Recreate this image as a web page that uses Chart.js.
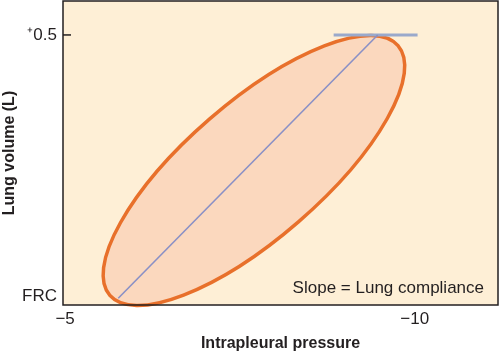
<!DOCTYPE html>
<html>
<head>
<meta charset="utf-8">
<script src="https://cdn.jsdelivr.net/npm/chart.js@4"></script>
<style>
  html, body { margin: 0; padding: 0; background: #fff; }
  #wrap { width: 500px; height: 353px; }
</style>
</head>
<body>
<div id="wrap"><canvas id="lungChart"></canvas></div>
<script>
// axis ticks
const xTicks = [-5, -10];
const xTickLabels = ['\u22125', '\u221210'];
const yTicks = [0, 0.5];
const yTickLabels = ['FRC', '\u207A0.5'];

// compliance line (pressure, volume)
const slopeX = [-5.76, -9.47];
const slopeY = [-0.004, 0.5];

// flat line at end-inspiration
const capX = [-8.84, -10.04];
const capY = [0.5, 0.5];

// pressure-volume loop: centre, end of long axis, end of short axis
const loopCenter = [-7.70, 0.2405];
const loopMajorEnd = [-9.76, 0.4796];
const loopMinorEnd = [-8.34, 0.1426];

const FONT = '"Liberation Sans", Arial, sans-serif';

const loopPlugin = {
    id: 'loop',
    beforeDatasetsDraw(chart) {
        const { ctx, chartArea: a, scales: { x, y } } = chart;
        ctx.save();
        ctx.fillStyle = '#FEEFD6';
        ctx.fillRect(a.left, a.top, a.width, a.height);

        const c = [x.getPixelForValue(loopCenter[0]), y.getPixelForValue(loopCenter[1])];
        const m = [x.getPixelForValue(loopMajorEnd[0]), y.getPixelForValue(loopMajorEnd[1])];
        const n = [x.getPixelForValue(loopMinorEnd[0]), y.getPixelForValue(loopMinorEnd[1])];
        const rx = Math.hypot(m[0] - c[0], m[1] - c[1]);
        const ry = Math.hypot(n[0] - c[0], n[1] - c[1]);
        const ang = Math.atan2(m[1] - c[1], m[0] - c[0]);
        ctx.beginPath();
        ctx.ellipse(c[0], c[1], rx, ry, ang, 0, Math.PI * 2);
        ctx.fillStyle = '#FBD8BE';
        ctx.fill();
        ctx.lineWidth = 3.5;
        ctx.strokeStyle = '#E8702B';
        ctx.stroke();
        ctx.restore();
    },
    afterDraw(chart) {
        const { ctx, chartArea: a, scales: { y } } = chart;
        ctx.save();
        // frame
        ctx.strokeStyle = '#231f20';
        ctx.lineWidth = 1.5;
        ctx.strokeRect(a.left, a.top, a.width, a.height);
        // inward tick at +0.5
        const ty = y.getPixelForValue(0.5);
        ctx.beginPath();
        ctx.moveTo(a.left, ty);
        ctx.lineTo(a.left + 8, ty);
        ctx.stroke();
        // note
        ctx.fillStyle = '#231f20';
        ctx.font = '17px ' + FONT;
        ctx.textAlign = 'right';
        ctx.textBaseline = 'middle';
        ctx.fillText('Slope = Lung compliance', a.right - 14, a.bottom - 17);
        ctx.restore();
    }
};

const ctx = document.getElementById('lungChart').getContext('2d');
new Chart(ctx, {
    type: 'scatter',
    data: {
        datasets: [
            {
                label: 'compliance',
                data: slopeX.map((v, i) => ({ x: v, y: slopeY[i] })),
                showLine: true,
                borderColor: '#8A90C6',
                borderWidth: 1.6,
                pointRadius: 0
            },
            {
                label: 'cap',
                data: capX.map((v, i) => ({ x: v, y: capY[i] })),
                showLine: true,
                borderColor: '#9AA9CB',
                borderWidth: 3,
                pointRadius: 0
            }
        ]
    },
    options: {
        responsive: true,
        maintainAspectRatio: false,
        animation: false,
        layout: { padding: { top: 1, right: 2, left: 0, bottom: 0 } },
        plugins: {
            legend: { display: false },
            tooltip: { enabled: false }
        },
        scales: {
            x: {
                type: 'linear',
                min: -11.19,
                max: -4.97,
                reverse: true,
                grid: { display: false, drawTicks: false },
                border: { display: false },
                afterBuildTicks: s => { s.ticks = xTicks.map(v => ({ value: v })); },
                afterFit: s => { s.height = 48; s.paddingLeft = 0; s.paddingRight = 0; },
                ticks: {
                    autoSkip: false,
                    maxRotation: 0,
                    padding: 4,
                    color: '#231f20',
                    font: { family: FONT, size: 17 },
                    callback: v => xTickLabels[xTicks.indexOf(v)]
                },
                title: {
                    display: true,
                    text: 'Intrapleural pressure',
                    color: '#231f20',
                    font: { family: FONT, size: 16, weight: 'bold' },
                    padding: { top: 0, bottom: 0 }
                }
            },
            y: {
                type: 'linear',
                min: -0.017,
                max: 0.565,
                grid: { display: false, drawTicks: false },
                border: { display: false },
                afterBuildTicks: s => { s.ticks = yTicks.map(v => ({ value: v })); },
                afterFit: s => { s.width = 63; s.paddingTop = 0; s.paddingBottom = 0; },
                ticks: {
                    autoSkip: false,
                    padding: 6,
                    color: '#231f20',
                    font: { family: FONT, size: 17 },
                    callback: v => yTickLabels[yTicks.indexOf(v)]
                },
                title: {
                    display: true,
                    text: 'Lung volume (L)',
                    color: '#231f20',
                    font: { family: FONT, size: 16, weight: 'bold' },
                    padding: { top: 0, bottom: 0 }
                }
            }
        }
    },
    plugins: [loopPlugin]
});
</script>
</body>
</html>
